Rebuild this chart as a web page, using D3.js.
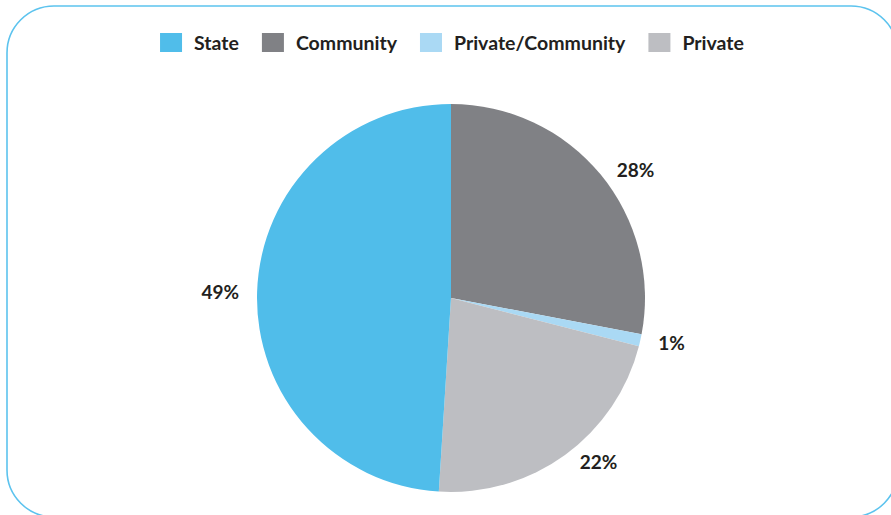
<!DOCTYPE html>
<html>
<head>
<meta charset="utf-8">
<script src="https://cdn.jsdelivr.net/npm/d3@7"></script>
<style>
  html, body { margin: 0; padding: 0; background: #fff; }
  svg { display: block; }
  text { font-family: Lato, "Open Sans", sans-serif; font-weight: 700; fill: #231f20; }
</style>
</head>
<body>
<svg id="chart" width="891" height="515"></svg>
<script>
// Ownership shares (percent), drawn clockwise from 12 o'clock
const categories = ["Community", "Private/Community", "Private", "State"];
const shares = [28, 1, 22, 49];
const colors = ["#808185", "#aad9f4", "#bdbec2", "#50bdea"];
// Legend order
const legendOrder = ["State", "Community", "Private/Community", "Private"];

const W = 891, H = 515;
const svg = d3.select("#chart");

// Rounded frame
svg.append("rect")
  .attr("x", 7).attr("y", 6)
  .attr("width", 891).attr("height", 511)
  .attr("rx", 47).attr("ry", 47)
  .attr("fill", "none")
  .attr("stroke", "#5cc3ee")
  .attr("stroke-width", 1.6);

const cx = 451, cy = 298, radius = 194;
const color = d3.scaleOrdinal().domain(categories).range(colors);

const data = categories.map((c, i) => ({ name: c, value: shares[i] }));
const pie = d3.pie().value(d => d.value).sort(null);
const arcs = pie(data);
const arc = d3.arc().innerRadius(0).outerRadius(radius);
// Outside-end labels: anchor just beyond the rim, nudged sideways
const labelArc = d3.arc().innerRadius(radius + 8).outerRadius(radius + 8);
const nudge = 10;

const g = svg.append("g").attr("transform", `translate(${cx},${cy})`);
g.selectAll("path.slice")
  .data(arcs)
  .join("path")
  .attr("class", "slice")
  .attr("d", arc)
  .attr("fill", d => color(d.data.name));

g.selectAll("text.pct")
  .data(arcs)
  .join("text")
  .attr("class", "pct")
  .each(function (d) {
    const [px, py] = labelArc.centroid(d);
    const right = px >= 0;
    d3.select(this)
      .attr("x", px + (right ? nudge : -nudge))
      .attr("y", py)
      .attr("text-anchor", right ? "start" : "end");
  })
  .attr("dominant-baseline", "central")
  .style("font-size", "19px")
  .text(d => d.data.value + "%");

// Legend: swatch + label, laid out left to right and centred on the pie
const legend = svg.append("g");
const sw = 22, sh = 19, gapText = 12, gapItem = 23;
let x = 0;
legendOrder.forEach(name => {
  const item = legend.append("g");
  item.append("rect")
    .attr("x", 0).attr("y", -sh / 2)
    .attr("width", sw).attr("height", sh)
    .attr("fill", color(name));
  const t = item.append("text")
    .attr("x", sw + gapText).attr("y", 0)
    .attr("dominant-baseline", "central")
    .style("font-size", "19.5px")
    .text(name);
  const w = sw + gapText + t.node().getComputedTextLength();
  item.attr("transform", `translate(${x},0)`);
  x += w + gapItem;
});
const total = x - gapItem;
legend.attr("transform", `translate(${cx - total / 2 + 1},${42.5})`);
</script>
</body>
</html>
